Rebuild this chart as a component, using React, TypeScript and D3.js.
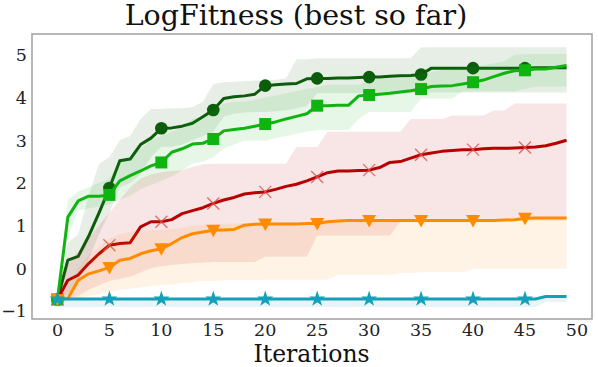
import { scaleLinear, area, line, range, symbol, symbolStar, curveLinear } from "d3";

const W = 598;
const H = 367;
const margin = { top: 34, right: 6, bottom: 48, left: 32 };

const iterations = range(50);
const markerIters = range(0, 50, 5);
const xTicks = [0, 5, 10, 15, 20, 25, 30, 35, 40, 45, 50];
const yTicks = [-1, 0, 1, 2, 3, 4, 5];

// dark green, circles
const darkGreen = [
  -0.73, 0.19, 0.28, 0.75, 1.3, 1.88, 2.52, 2.56, 2.9, 3.05,
  3.28, 3.29, 3.33, 3.4, 3.55, 3.71, 3.98, 4.02, 4.04, 4.08,
  4.28, 4.3, 4.32, 4.33, 4.44, 4.45, 4.45, 4.46, 4.46, 4.47,
  4.48, 4.48, 4.5, 4.51, 4.52, 4.54, 4.69, 4.69, 4.69, 4.69,
  4.69, 4.69, 4.69, 4.69, 4.69, 4.69, 4.7, 4.7, 4.7, 4.7,
];
const darkGreenLo = [
  -0.73, -0.6, -0.3, 0.2, 0.8, 1.3, 1.9, 2.0, 2.2, 2.6,
  2.85, 2.85, 2.9, 3.0, 3.1, 3.2, 3.55, 3.62, 3.65, 3.66,
  3.66, 3.68, 3.7, 3.75, 3.8, 4.1, 4.1, 4.1, 4.1, 4.1,
  4.1, 4.1, 4.1, 4.1, 4.1, 4.1, 4.12, 4.12, 4.12, 4.12,
  4.12, 4.12, 4.12, 4.12, 4.12, 4.12, 4.12, 4.12, 4.12, 4.12,
];
const darkGreenHi = [
  -0.73, 0.6, 0.8, 1.7, 2.45, 2.6, 3.0, 3.1, 3.5, 3.73,
  3.73, 3.75, 3.75, 3.78, 3.9, 4.32, 4.36, 4.37, 4.38, 4.4,
  4.4, 4.42, 4.45, 4.9, 4.9, 4.92, 4.92, 4.92, 4.92, 4.92,
  4.92, 4.92, 4.92, 4.92, 4.92, 5.18, 5.18, 5.18, 5.18, 5.18,
  5.18, 5.18, 5.18, 5.18, 5.18, 5.18, 5.18, 5.18, 5.18, 5.18,
];

// bright green, squares
const brightGreen = [
  -0.73, 1.2, 1.58, 1.69, 1.69, 1.72, 2.05, 2.17, 2.28, 2.4,
  2.48, 2.72, 2.8, 2.91, 2.93, 3.03, 3.22, 3.25, 3.28, 3.33,
  3.38, 3.43, 3.5, 3.56, 3.62, 3.81, 3.81, 3.82, 3.82, 4.04,
  4.06, 4.08, 4.1, 4.13, 4.16, 4.2, 4.26, 4.27, 4.28, 4.32,
  4.36, 4.41, 4.49, 4.57, 4.63, 4.64, 4.67, 4.67, 4.71, 4.75,
];
const brightGreenLo = [
  -0.73, 0.75, 1.35, 1.4, 1.45, 1.5, 1.6, 1.7, 1.85, 1.95,
  2.05, 2.15, 2.3, 2.45, 2.5, 2.6, 2.8, 2.9, 2.99, 2.99,
  2.99, 3.05, 3.1, 3.15, 3.2, 3.24, 3.24, 3.24, 3.24, 3.5,
  3.66, 3.66, 3.66, 3.66, 3.66, 3.97, 3.97, 3.97, 3.97, 4.15,
  4.15, 4.15, 4.15, 4.15, 4.15, 4.2, 4.26, 4.26, 4.26, 4.26,
];
const brightGreenHi = [
  -0.73, 1.6, 1.8, 1.9, 2.0, 2.1, 2.5, 2.6, 2.8, 3.0,
  3.1, 3.2, 3.3, 3.5, 3.55, 3.7, 3.85, 3.9, 3.9, 3.95,
  4.0, 4.05, 4.1, 4.15, 4.2, 4.25, 4.3, 4.3, 4.3, 4.3,
  4.4, 4.45, 4.45, 4.45, 4.5, 4.55, 4.6, 4.65, 4.68, 4.7,
  4.72, 4.75, 4.8, 4.85, 5.0, 5.02, 5.02, 5.02, 5.02, 5.02,
];

// red, x markers
const red = [
  -0.73, -0.28, -0.16, 0.11, 0.34, 0.54, 0.58, 0.6, 0.97, 1.09,
  1.09, 1.14, 1.28, 1.35, 1.42, 1.52, 1.6, 1.66, 1.74, 1.77,
  1.79, 1.85, 1.92, 1.97, 2.05, 2.14, 2.24, 2.28, 2.28, 2.29,
  2.3, 2.36, 2.48, 2.5, 2.58, 2.66, 2.7, 2.74, 2.76, 2.78,
  2.78, 2.8, 2.81, 2.81, 2.82, 2.83, 2.84, 2.87, 2.93, 3.0,
];
const redLo = [
  -0.73, -0.73, -0.65, -0.5, -0.4, -0.3, -0.25, -0.2, -0.1, 0.0,
  0.05, 0.08, 0.1, 0.12, 0.13, 0.15, 0.15, 0.15, 0.15, 0.15,
  0.27, 0.27, 0.27, 0.27, 0.27, 0.77, 0.77, 0.77, 0.77, 0.77,
  0.77, 0.77, 0.77, 1.09, 1.09, 1.1, 1.1, 1.1, 1.1, 1.1,
  1.1, 1.1, 1.1, 1.1, 1.1, 1.12, 1.12, 1.12, 1.12, 1.12,
];
const redHi = [
  -0.73, 0.1, 0.4, 0.7, 1.0, 1.3, 1.6, 1.9, 2.1, 2.2,
  2.25, 2.28, 2.3, 2.38, 2.44, 2.45, 2.45, 2.45, 2.45, 2.45,
  2.45, 2.45, 2.45, 2.84, 2.84, 2.84, 3.2, 3.2, 3.2, 3.2,
  3.2, 3.2, 3.2, 3.2, 3.5, 3.5, 3.5, 3.5, 3.58, 3.58,
  3.58, 3.58, 3.7, 3.7, 3.86, 3.86, 3.86, 3.86, 3.86, 3.86,
];

// orange, triangles down
const orange = [
  -0.73, -0.71, -0.28, -0.13, -0.06, 0.02, 0.19, 0.23, 0.34, 0.41,
  0.46, 0.58, 0.72, 0.81, 0.85, 0.89, 0.9, 0.91, 1.01, 1.03,
  1.04, 1.04, 1.04, 1.04, 1.05, 1.05, 1.09, 1.11, 1.12, 1.12,
  1.12, 1.12, 1.12, 1.12, 1.12, 1.12, 1.12, 1.12, 1.12, 1.12,
  1.12, 1.12, 1.12, 1.13, 1.14, 1.17, 1.18, 1.18, 1.18, 1.18,
];
const orangeLo = [
  -0.73, -0.73, -0.7, -0.65, -0.6, -0.55, -0.5, -0.48, -0.45, -0.42,
  -0.4, -0.38, -0.35, -0.33, -0.3, -0.3, -0.28, -0.28, -0.28, -0.28,
  -0.27, -0.27, -0.27, -0.27, -0.27, -0.27, -0.27, -0.16, -0.16, -0.16,
  -0.16, -0.16, -0.16, -0.11, -0.11, -0.09, -0.09, -0.09, -0.09, -0.09,
  -0.01, -0.01, -0.01, -0.01, -0.01, -0.01, -0.01, -0.01, -0.01, -0.01,
];
const orangeHi = [
  -0.73, -0.4, 0.0, 0.3, 0.5, 0.7, 0.8, 0.85, 0.88, 0.9,
  0.9, 0.92, 0.95, 1.0, 1.02, 1.03, 1.04, 1.05, 1.06, 1.07,
  1.07, 1.08, 1.08, 1.08, 1.08, 1.08, 1.1, 1.13, 1.13, 1.13,
  1.13, 1.13, 1.13, 1.13, 1.13, 1.13, 1.13, 1.13, 1.13, 1.13,
  1.13, 1.13, 1.13, 1.14, 1.15, 1.19, 1.19, 1.19, 1.19, 1.19,
];

// teal, stars
const teal = [
  -0.72, -0.72, -0.72, -0.72, -0.72, -0.72, -0.72, -0.72, -0.72, -0.72,
  -0.72, -0.72, -0.72, -0.72, -0.72, -0.72, -0.72, -0.72, -0.72, -0.72,
  -0.72, -0.72, -0.72, -0.72, -0.72, -0.72, -0.72, -0.72, -0.72, -0.72,
  -0.72, -0.72, -0.72, -0.72, -0.72, -0.72, -0.72, -0.72, -0.72, -0.72,
  -0.72, -0.72, -0.72, -0.72, -0.72, -0.72, -0.72, -0.66, -0.66, -0.66,
];
const tealLo = [
  -0.91, -0.91, -0.91, -0.91, -0.91, -0.91, -0.91, -0.91, -0.91, -0.91,
  -0.91, -0.91, -0.91, -0.91, -0.91, -0.91, -0.91, -0.91, -0.91, -0.91,
  -0.91, -0.91, -0.91, -0.91, -0.91, -0.91, -0.91, -0.91, -0.91, -0.91,
  -0.91, -0.91, -0.91, -0.91, -0.91, -0.91, -0.91, -0.91, -0.91, -0.91,
  -0.91, -0.91, -0.91, -0.91, -0.91, -0.91, -0.91, -0.79, -0.79, -0.79,
];
const tealHi = [
  -0.71, -0.71, -0.71, -0.71, -0.71, -0.71, -0.71, -0.71, -0.71, -0.71,
  -0.71, -0.71, -0.71, -0.71, -0.71, -0.71, -0.71, -0.71, -0.71, -0.71,
  -0.71, -0.71, -0.71, -0.71, -0.71, -0.71, -0.71, -0.71, -0.71, -0.71,
  -0.71, -0.71, -0.71, -0.71, -0.71, -0.71, -0.71, -0.71, -0.71, -0.71,
  -0.71, -0.71, -0.71, -0.71, -0.71, -0.71, -0.71, -0.65, -0.65, -0.65,
];

type Marker = "circle" | "square" | "x" | "triDown" | "star";

const series: {
  name: string;
  mean: number[];
  lo: number[];
  hi: number[];
  color: string;
  marker: Marker;
}[] = [
  { name: "dg", mean: darkGreen, lo: darkGreenLo, hi: darkGreenHi, color: "#0c5c0c", marker: "circle" },
  { name: "bg", mean: brightGreen, lo: brightGreenLo, hi: brightGreenHi, color: "#10b410", marker: "square" },
  { name: "red", mean: red, lo: redLo, hi: redHi, color: "#b80000", marker: "x" },
  { name: "or", mean: orange, lo: orangeLo, hi: orangeHi, color: "#ff8c00", marker: "triDown" },
  { name: "teal", mean: teal, lo: tealLo, hi: tealHi, color: "#13a0b8", marker: "star" },
];

const FONT = "'DejaVu Serif', serif";

function MarkerShape({ type, x, y, color }: { type: Marker; x: number; y: number; color: string }) {
  if (type === "circle") return <circle cx={x} cy={y} r={6.3} fill={color} />;
  if (type === "square") return <rect x={x - 6} y={y - 6} width={12} height={12} fill={color} />;
  if (type === "x")
    return (
      <path
        d={`M${x - 6},${y - 6}L${x + 6},${y + 6}M${x - 6},${y + 6}L${x + 6},${y - 6}`}
        stroke="#dd5555"
        strokeWidth={1.3}
        opacity={0.85}
      />
    );
  if (type === "triDown")
    return <path d={`M${x - 7},${y - 5.5}L${x + 7},${y - 5.5}L${x},${y + 7}Z`} fill={color} />;
  return <path d={symbol(symbolStar, 80)() || ""} transform={`translate(${x},${y})`} fill={color} />;
}

export default function App() {
  const x = scaleLinear().domain([-2.45, 51.45]).range([margin.left, W - margin.right]);
  const y = scaleLinear().domain([-1.2, 5.49]).range([H - margin.bottom + 0.5, margin.top]);

  return (
    <svg width={W} height={H} style={{ position: "absolute", left: 0, top: 0, background: "white" }}>
      <text x={296} y={25} textAnchor="middle" fontFamily={FONT} fontSize={28.5} fill="#111">
        LogFitness (best so far)
      </text>

      {series.map((s) => {
        const band = area<number>()
          .x((i) => x(i))
          .y0((i) => y(s.lo[i]))
          .y1((i) => y(s.hi[i]))
          .curve(curveLinear);
        const ln = line<number>()
          .x((i) => x(i))
          .y((i) => y(s.mean[i]));
        return (
          <g key={s.name}>
            <path d={band(iterations) || ""} fill={s.color} fillOpacity={0.1} />
            <path d={ln(iterations) || ""} fill="none" stroke={s.color} strokeWidth={3} strokeLinejoin="round" />
            {markerIters.map((i) => (
              <MarkerShape key={i} type={s.marker} x={x(i)} y={y(s.mean[i])} color={s.color} />
            ))}
          </g>
        );
      })}

      <rect
        x={margin.left}
        y={margin.top}
        width={W - margin.right - margin.left}
        height={H - margin.bottom - margin.top}
        fill="none"
        stroke="#a0a0a0"
        strokeWidth={1.5}
      />

      {xTicks.map((t) => (
        <text key={t} x={x(t)} y={336} textAnchor="middle" fontFamily={FONT} fontSize={17.5} fill="#222">
          {t}
        </text>
      ))}
      {yTicks.map((t) => (
        <text
          key={t}
          x={27}
          y={y(t)}
          dy="0.36em"
          textAnchor="end"
          fontFamily={FONT}
          fontSize={17.5}
          fill="#222"
        >
          {t < 0 ? `\u2212${Math.abs(t)}` : t}
        </text>
      ))}

      <text x={311.5} y={362} textAnchor="middle" fontFamily={FONT} fontSize={23.5} fill="#111">
        Iterations
      </text>
    </svg>
  );
}
